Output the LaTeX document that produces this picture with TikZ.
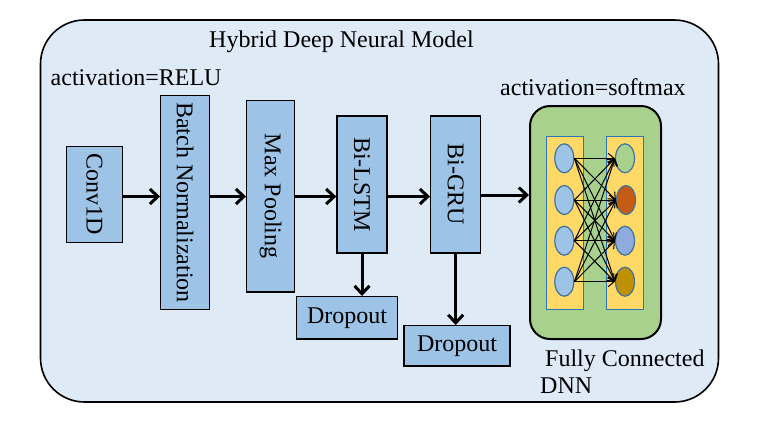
\documentclass[tikz,border=0pt]{standalone}
\usepackage{fontspec}
\setmainfont{Liberation Serif}
\usetikzlibrary{arrows.meta,shapes.geometric}
\definecolor{modelbg}{HTML}{DEEBF7}
\definecolor{layerfill}{HTML}{9DC3E6}
\definecolor{dnngreen}{HTML}{A9D18E}
\definecolor{dnnyellow}{HTML}{FFD966}
\definecolor{dnnedge}{HTML}{2E75B6}
\definecolor{neuronedge}{HTML}{41719C}
\definecolor{outorange}{HTML}{C55A11}
\definecolor{outblue}{HTML}{8FAADC}
\definecolor{outgold}{HTML}{BF9000}
\tikzset{
	layer/.style={draw, line width=1.3pt, fill=layerfill, inner sep=0pt},
	flow/.style={-{Straight Barb[length=8pt,width=15pt]}, line width=3pt},
	neuron/.style={ellipse, draw=neuronedge, line width=1.2pt, minimum width=19pt, minimum height=29pt, inner sep=0pt},
	link/.style={-{Straight Barb[length=6pt,width=10pt]}, line width=1pt},
	label/.style={anchor=base west, inner sep=0pt}
}
\begin{document}
\begin{tikzpicture}[x=1pt,y=-1pt,font=\fontsize{24}{28}\selectfont]
	\useasboundingbox (0,0) rectangle (767,440);
	% model frame - must be drawn before the rest!
	\draw[line width=1.6pt, fill=modelbg, rounded corners=44pt] (40.5,20) rectangle (718.5,402);
	\node[anchor=base, inner sep=0pt] (title) at (341.5,47) {Hybrid Deep Neural Model};
	\node[label] (relu) at (50.5,85) {activation=RELU};
	% layers
	\node[layer, minimum width=56pt, minimum height=96pt] (conv) at (94.5,194.5) {\rotatebox{-90}{Conv1D}};
	\node[layer, minimum width=48.6pt, minimum height=213.6pt] (bn) at (185,202.5) {\rotatebox{-90}{Batch Normalization}};
	\node[layer, minimum width=47.6pt, minimum height=191.3pt] (mp) at (270.5,196.3) {\rotatebox{-90}{Max Pooling}};
	\node[layer, minimum width=50pt, minimum height=137pt] (lstm) at (362,184.5) {\rotatebox{-90}{Bi-LSTM}};
	\node[layer, minimum width=50pt, minimum height=137pt] (gru) at (455.7,184.5) {\rotatebox{-90}{Bi-GRU}};
	\node[layer, minimum width=100.6pt, minimum height=42.3pt] (drop1) at (347,317.8) {Dropout};
	\node[layer, minimum width=106pt, minimum height=40.3pt] (drop2) at (457,345.8) {Dropout};
	% fully connected part
	\node[draw, line width=2pt, fill=dnngreen, rounded corners=20pt, minimum width=131pt, minimum height=233pt] (dnn) at (595.5,222.5) {};
	\node[label] (softmax) at (500,95) {activation=softmax};
	\node[label] (fc) at (545,366) {Fully Connected};
	\node[label] (dnnname) at (540,393) {DNN};
	\node[draw=dnnedge, line width=1pt, fill=dnnyellow, minimum width=36.6pt, minimum height=173.3pt] (incol) at (565,222.7) {};
	\node[draw=dnnedge, line width=1pt, fill=dnnyellow, minimum width=36.6pt, minimum height=173.3pt] (outcol) at (625,222.7) {};
	\foreach \i/\y in {1/158.3,2/200,3/240.7,4/281.7}
		\node[neuron, fill=layerfill] (in\i) at (564.3,\y) {};
	\node[neuron, fill=dnngreen] (out1) at (625,158.3) {};
	\node[neuron, fill=outorange] (out2) at (626,200) {};
	\node[neuron, fill=outblue] (out3) at (625,240.7) {};
	\node[neuron, fill=outgold] (out4) at (625,281.7) {};
	\foreach \i in {1,...,4}
		\foreach \j in {1,...,4}
			\draw[link] (in\i.east) -- (out\j.west);
	% connectors
	\coordinate (line) at (0,196.5);
	\draw[flow] (conv.east |- line) -- (bn.west |- line);
	\draw[flow] (bn.east |- line) -- (mp.west |- line);
	\draw[flow] (mp.east |- line) -- (lstm.west |- line);
	\draw[flow] (lstm.east |- line) -- (gru.west |- line);
	\draw[flow] (gru.east |- 0,195) -- (dnn.west |- 0,195);
	\draw[flow] (lstm.south) -- (lstm.south |- drop1.north);
	\draw[flow] (gru.south) -- (gru.south |- drop2.north);
\end{tikzpicture}
\end{document}
